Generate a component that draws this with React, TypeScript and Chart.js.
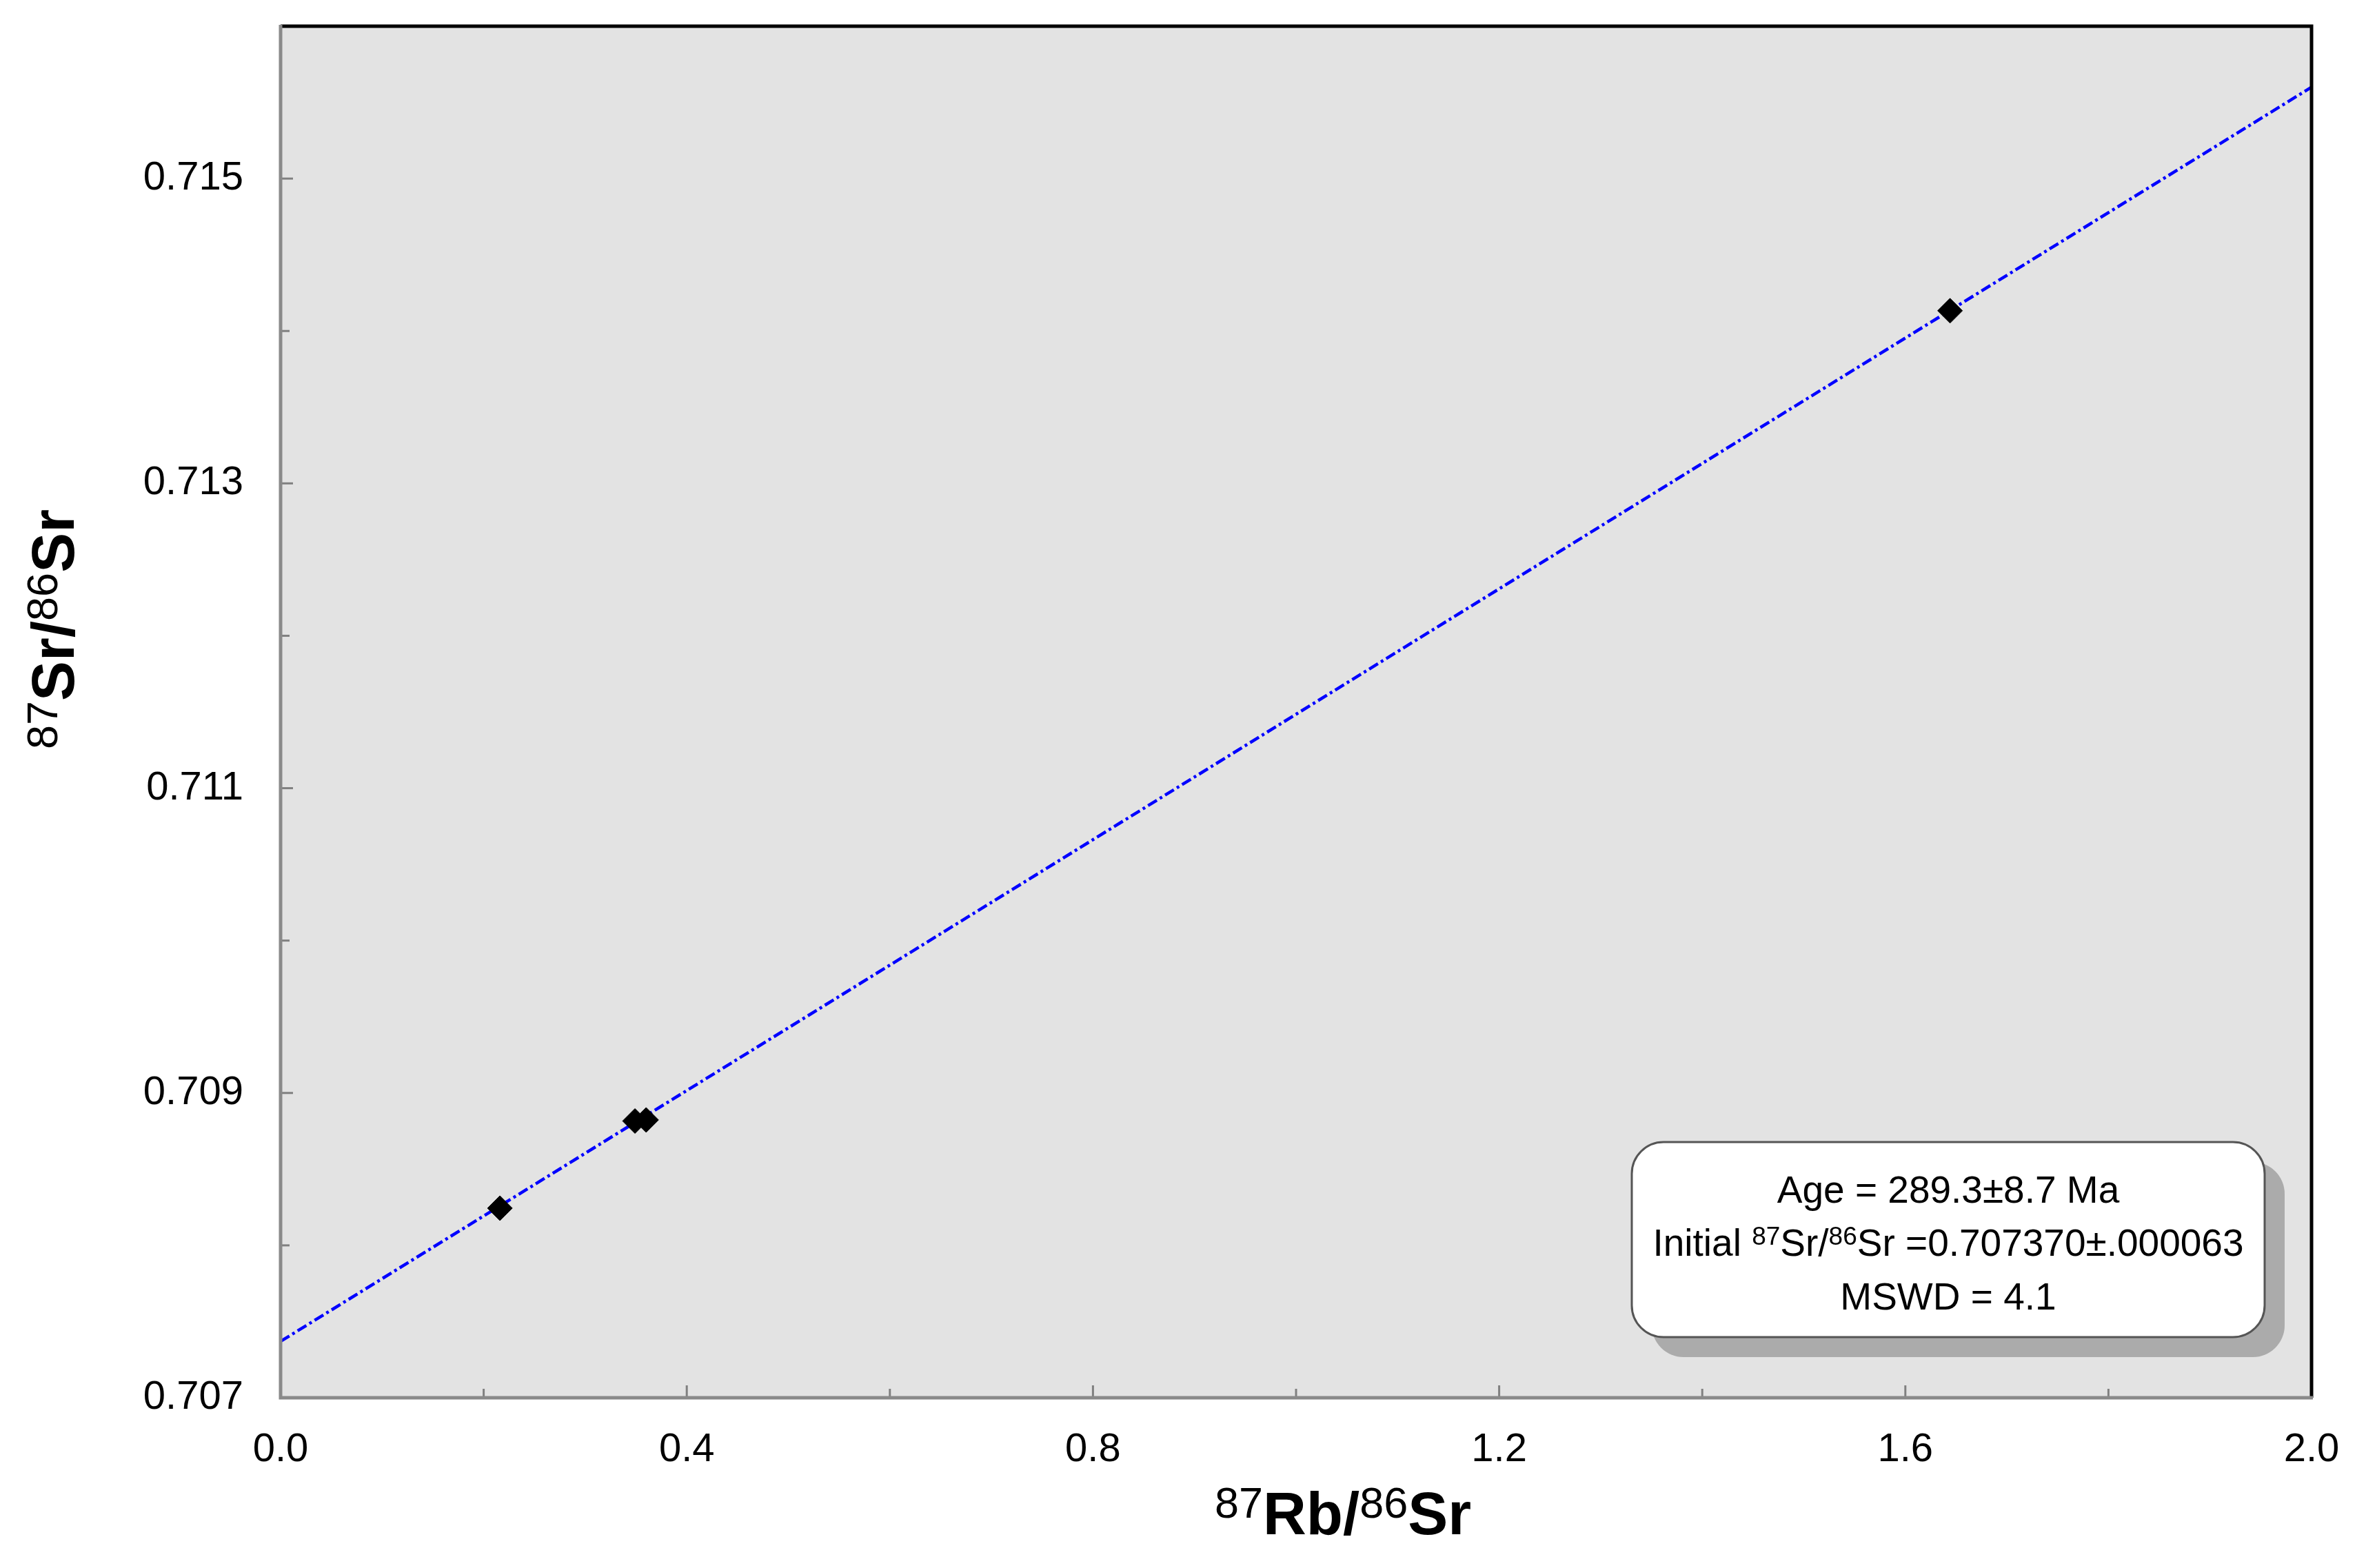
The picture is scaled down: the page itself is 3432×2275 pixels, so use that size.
import React, { useEffect, useRef } from "react";
import { Chart, registerables } from "chart.js";

Chart.register(...registerables);

// ---- data ----
const rbSr = [0.216, 0.349, 0.36, 1.644];
const srSr = [0.708244, 0.708816, 0.708823, 0.714133];
const isochronX = [0, 2.0];
const isochronY = [0.70737, 0.7156];

const xMin = 0;
const xMax = 2.0;
const xStep = 0.2;
const yMin = 0.707;
const yMax = 0.716;
const yStep = 0.001;
const xLabeled = [0, 0.4, 0.8, 1.2, 1.6, 2.0];
const yLabeled = [0.707, 0.709, 0.711, 0.713, 0.715];

type Seg = { t: string; sup?: boolean };
const xTitle: Seg[] = [{ t: "87", sup: true }, { t: "Rb/" }, { t: "86", sup: true }, { t: "Sr" }];
const yTitle: Seg[] = [{ t: "87", sup: true }, { t: "Sr/" }, { t: "86", sup: true }, { t: "Sr" }];
const boxLines: Seg[][] = [
  [{ t: "Age = 289.3±8.7 Ma" }],
  [{ t: "Initial " }, { t: "87", sup: true }, { t: "Sr/" }, { t: "86", sup: true }, { t: "Sr =0.707370±.000063" }],
  [{ t: "MSWD = 4.1" }],
];

const FONT = '"Liberation Sans", Arial, Helvetica, sans-serif';

function near(v: number, list: number[]) {
  return list.some((l) => Math.abs(l - v) < 1e-9);
}

function drawRich(
  ctx: CanvasRenderingContext2D,
  segs: Seg[],
  cx: number,
  baseline: number,
  mainFont: string,
  supFont: string,
  supRaise: number
) {
  let total = 0;
  const widths = segs.map((s) => {
    ctx.font = s.sup ? supFont : mainFont;
    const w = ctx.measureText(s.t).width;
    total += w;
    return w;
  });
  let x = cx - total / 2;
  ctx.textAlign = "left";
  ctx.textBaseline = "alphabetic";
  segs.forEach((s, i) => {
    ctx.font = s.sup ? supFont : mainFont;
    ctx.fillText(s.t, x, s.sup ? baseline - supRaise : baseline);
    x += widths[i];
  });
}

function roundRect(ctx: CanvasRenderingContext2D, x: number, y: number, w: number, h: number, r: number) {
  ctx.beginPath();
  ctx.moveTo(x + r, y);
  ctx.lineTo(x + w - r, y);
  ctx.arcTo(x + w, y, x + w, y + r, r);
  ctx.lineTo(x + w, y + h - r);
  ctx.arcTo(x + w, y + h, x + w - r, y + h, r);
  ctx.lineTo(x + r, y + h);
  ctx.arcTo(x, y + h, x, y + h - r, r);
  ctx.lineTo(x, y + r);
  ctx.arcTo(x, y, x + r, y, r);
  ctx.closePath();
}

const bgPlugin = {
  id: "plotBg",
  beforeDraw(chart: any) {
    const { ctx, chartArea: a } = chart;
    ctx.save();
    ctx.fillStyle = "#ffffff";
    ctx.fillRect(0, 0, chart.width, chart.height);
    ctx.fillStyle = "#e3e3e3";
    ctx.fillRect(a.left, a.top, a.right - a.left, a.bottom - a.top);
    ctx.restore();
  },
};

const framePlugin = {
  id: "frame",
  afterDraw(chart: any) {
    const { ctx, chartArea: a } = chart;
    const xs = chart.scales.x;
    const ys = chart.scales.y;
    ctx.save();
    // ticks (inward)
    ctx.strokeStyle = "#808080";
    ctx.lineWidth = 3;
    xs.ticks.forEach((t: any) => {
      const px = xs.getPixelForValue(t.value);
      const len = near(t.value, xLabeled) ? 18 : 13;
      ctx.beginPath();
      ctx.moveTo(px, a.bottom);
      ctx.lineTo(px, a.bottom - len);
      ctx.stroke();
    });
    ys.ticks.forEach((t: any) => {
      const py = ys.getPixelForValue(t.value);
      const len = near(t.value, yLabeled) ? 18 : 13;
      ctx.beginPath();
      ctx.moveTo(a.left, py);
      ctx.lineTo(a.left + len, py);
      ctx.stroke();
    });
    // top and right border (black)
    ctx.strokeStyle = "#000000";
    ctx.lineWidth = 5;
    ctx.beginPath();
    ctx.moveTo(a.left, a.top);
    ctx.lineTo(a.right, a.top);
    ctx.lineTo(a.right, a.bottom);
    ctx.stroke();
    // left and bottom axes (gray)
    ctx.strokeStyle = "#8a8a8a";
    ctx.lineWidth = 5;
    ctx.beginPath();
    ctx.moveTo(a.left, a.top - 2);
    ctx.lineTo(a.left, a.bottom);
    ctx.lineTo(a.right + 2, a.bottom);
    ctx.stroke();

    // annotation box
    const bw = 918;
    const bh = 283;
    const bx = a.right - 68 - bw;
    const by = a.bottom - 88 - bh;
    const r = 46;
    ctx.fillStyle = "#ababab";
    roundRect(ctx, bx + 29, by + 29, bw, bh, r);
    ctx.fill();
    ctx.fillStyle = "#ffffff";
    roundRect(ctx, bx, by, bw, bh, r);
    ctx.fill();
    ctx.strokeStyle = "#555555";
    ctx.lineWidth = 3;
    ctx.stroke();
    ctx.fillStyle = "#000000";
    const cx = bx + bw / 2;
    const baselines = [88, 165, 243];
    boxLines.forEach((line, i) => {
      drawRich(ctx, line, cx, by + baselines[i], `55px ${FONT}`, `37px ${FONT}`, 16);
    });

    // axis titles
    drawRich(
      ctx,
      xTitle,
      (a.left + a.right) / 2 + 68,
      a.bottom + 198,
      `bold 87px ${FONT}`,
      `63px ${FONT}`,
      24
    );
    ctx.save();
    ctx.translate(a.left - 300, (a.top + a.bottom) / 2 - 120);
    ctx.rotate(-Math.PI / 2);
    drawRich(ctx, yTitle, 0, 0, `bold 87px ${FONT}`, `63px ${FONT}`, 24);
    ctx.restore();
    ctx.restore();
  },
};

export default function App() {
  const ref = useRef<HTMLCanvasElement | null>(null);
  useEffect(() => {
    if (!ref.current) return;
    const chart = new Chart(ref.current, {
      type: "scatter",
      data: {
        datasets: [
          {
            label: "samples",
            data: rbSr.map((x, i) => ({ x, y: srSr[i] })),
            pointStyle: "rectRot",
            pointRadius: 18,
            pointBackgroundColor: "#000000",
            pointBorderColor: "#000000",
            pointBorderWidth: 1,
            showLine: false,
            order: 0,
          },
          {
            label: "isochron",
            data: isochronX.map((x, i) => ({ x, y: isochronY[i] })),
            showLine: true,
            borderColor: "#0000ff",
            borderWidth: 4.5,
            borderDash: [15, 5, 4, 5],
            pointRadius: 0,
            fill: false,
            order: 1,
          } as any,
        ],
      },
      options: {
        responsive: false,
        animation: false,
        devicePixelRatio: 1,
        layout: { padding: { top: 38, right: 79, left: 0, bottom: 0 } },
        plugins: { legend: { display: false }, tooltip: { enabled: false } },
        scales: {
          x: {
            type: "linear",
            min: xMin,
            max: xMax,
            grid: { display: false, drawTicks: false },
            border: { display: false },
            ticks: {
              stepSize: xStep,
              padding: 41,
              color: "#000000",
              font: { family: FONT, size: 58 },
              maxRotation: 0,
              autoSkip: false,
              callback: (v: any) => (near(Number(v), xLabeled) ? Number(v).toFixed(1) : ""),
            },
            afterFit: (s: any) => {
              s.height = 247;
              s.paddingLeft = 0;
              s.paddingRight = 0;
            },
          },
          y: {
            type: "linear",
            min: yMin,
            max: yMax,
            grid: { display: false, drawTicks: false },
            border: { display: false },
            ticks: {
              stepSize: yStep,
              padding: 54,
              color: "#000000",
              font: { family: FONT, size: 58 },
              autoSkip: false,
              callback: (v: any) => (near(Number(v), yLabeled) ? Number(v).toFixed(3) : ""),
            },
            afterFit: (s: any) => {
              s.width = 407;
              s.paddingTop = 0;
              s.paddingBottom = 0;
            },
          },
        },
      },
      plugins: [bgPlugin, framePlugin],
    });
    return () => chart.destroy();
  }, []);
  return (
    <div style={{ position: "fixed", left: 0, top: 0, width: 3432, height: 2275, background: "#fff" }}>
      <canvas ref={ref} width={3432} height={2275} style={{ display: "block" }} />
    </div>
  );
}
